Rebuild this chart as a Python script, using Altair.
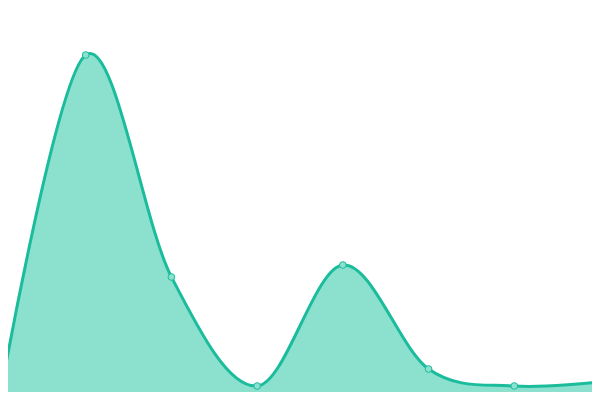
import altair as alt
import pandas as pd

# Series (index along x, value along y)
idx = [0, 1, 2, 3, 4, 5, 6, 7]
values = [3, 345, 123, 14, 135, 31, 14, 18]

df = pd.DataFrame({"i": idx, "v": values})

# Plot area of 584x384 at page offset 8 covers reference pixels 8..592 / 8..392
step = 600 / 7
x_scale = alt.Scale(domain=[8 / step, 592 / step], nice=False, zero=False)
y_scale = alt.Scale(domain=[8, 392], nice=False, zero=False)

base = alt.Chart(df).encode(
    x=alt.X("i:Q", scale=x_scale, axis=None),
    y=alt.Y("v:Q", scale=y_scale, axis=None),
)

area = base.mark_area(
    interpolate="cardinal", color="#8be0ce", opacity=1, clip=True
).encode(y2=alt.datum(0))
line = base.mark_line(
    interpolate="cardinal", color="#1abc9c", strokeWidth=3, clip=True
)
pts = base.mark_point(
    filled=True, fill="#8be0ce", stroke="#1abc9c", strokeWidth=1,
    size=45, opacity=1, clip=True
)

chart = (
    alt.layer(area, line, pts)
    .properties(width=584, height=384, padding=0)
    .configure_view(stroke=None)
)

chart.save("out.html", embed_options={"renderer": "svg", "actions": False})
